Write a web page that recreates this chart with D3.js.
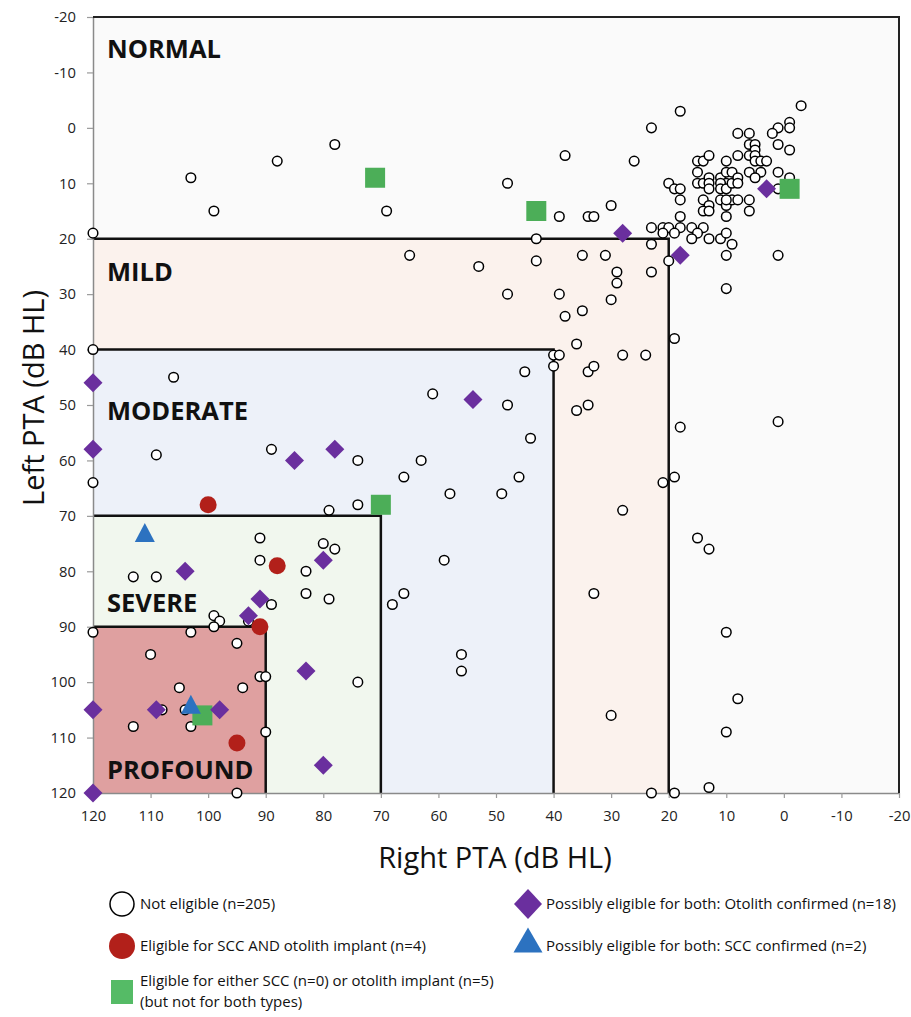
<!DOCTYPE html>
<html>
<head>
<meta charset="utf-8">
<script src="https://cdnjs.cloudflare.com/ajax/libs/d3/7.8.5/d3.min.js"></script>
<style>
  body { margin: 0; background: #fff; font-family: 'Open Sans', sans-serif; }
  .tick text { font-family: 'Open Sans', sans-serif; font-size: 14.8px; fill: #222; }
</style>
</head>
<body>
<script>
// [right PTA, left PTA] in dB HL
const notEligible = [
  [103,9],[99,15],[88,6],[78,3],[69,15],[120,19],[65,23],[120,40],[106,45],[61,48],
  [-3,-4],[18,-3],[23,0],[-1,-1],[-1,0],[1,0],[2,1],[8,1],[6,1],[6,3],[5,3],[1,3],[-1,4],[5,4],
  [38,5],[26,6],[48,10],[39,16],[34,16],[33,16],[30,14],[43,20],
  [20,24],[23,21],[23,18],[21,18],[20,18],[18,18],[16,18],[14,18],[21,19],[19,19],[15,19],[16,20],[13,20],[11,20],[10,19],[9,21],[10,23],[1,23],[10,29],
  [20,10],[19,11],[18,11],[18,13],[18,16],
  [15,6],[14,6],[13,5],[15,8],[15,10],[14,10],[13,9],[13,10],[13,11],[14,13],[13,14],[14,15],[13,15],
  [10,6],[11,9],[10,8],[10,10],[11,10],[11,11],[10,11],[9,8],[9,10],[8,9],[8,10],[8,5],[11,13],[10,14],[9,13],[8,13],[10,13],
  [6,13],[6,15],[6,8],[6,5],[5,5],[5,6],[4,6],[3,6],[4,8],[5,9],[10,16],[1,8],[-1,9],[1,11],
  [53,25],[43,24],[35,23],[31,23],[29,26],[29,28],[23,26],[48,30],[39,30],[30,31],[38,34],[35,33],[19,38],[36,39],
  [40,41],[39,41],[40,43],[28,41],[24,41],[45,44],[34,44],[33,43],[48,50],[36,51],[34,50],[1,53],
  [18,54],[44,56],[46,63],[19,63],[21,64],[49,66],[58,66],[28,69],[15,74],[13,76],[33,84],[10,91],[56,95],[56,98],
  [8,103],[30,106],[10,109],[13,119],[23,120],[19,120],
  [109,59],[120,64],[89,58],[74,60],[63,60],[66,63],[79,69],[74,68],[91,74],[80,75],[78,76],[91,78],[59,78],
  [113,81],[109,81],[83,80],[83,84],[79,85],[66,84],[68,86],[89,86],[99,88],[98,89],[99,90],[93,89],[120,91],[103,91],
  [95,93],[110,95],[91,99],[90,99],[74,100],[105,101],[94,101],[108,105],[104,105],[113,108],[103,108],[90,109],[95,120]
];
const sccAndOtolith = [[100,68],[88,79],[91,90],[95,111]];
const eitherImplant = [[71,9],[43,15],[-1,11],[70,68],[101,106]];
const otolithConfirmed = [
  [120,46],[28,19],[18,23],[3,11],[54,49],[120,58],[85,60],[78,58],[80,78],
  [104,80],[91,85],[93,88],[83,98],[120,105],[109,105],[98,105],[80,115],[120,120]
];
const sccConfirmed = [[111,73],[103,104]];

const bandNames = ['NORMAL', 'MILD', 'MODERATE', 'SEVERE', 'PROFOUND'];
const bandLimits = [-20, 20, 40, 70, 90];
const bandColors = ['#fafafa', '#fbf2ed', '#edf1f9', '#f1f7ee', '#dfa0a0'];
const bandLabelY = [-12.6, 27.6, 52.7, 87.4, 117.4];
const ticks = d3.range(120, -21, -10);

const legendItems = [
  {text: ['Not eligible (n=205)'], type: 'circle', col: 0, row: 0},
  {text: ['Eligible for SCC AND otolith implant (n=4)'], type: 'red', col: 0, row: 1},
  {text: ['Eligible for either SCC (n=0) or otolith implant (n=5)', '(but not for both types)'], type: 'square', col: 0, row: 2},
  {text: ['Possibly eligible for both: Otolith confirmed (n=18)'], type: 'diamond', col: 1, row: 0},
  {text: ['Possibly eligible for both: SCC confirmed (n=2)'], type: 'triangle', col: 1, row: 1}
];

const margin = {top: 17, left: 93, right: 12, bottom: 224};
const width = 911 - margin.left - margin.right;
const height = 1017 - margin.top - margin.bottom;

const svg = d3.select('body')
  .append('svg')
  .attr('width', 911)
  .attr('height', 1017);

const g = svg.append('g')
  .attr('transform', 'translate(' + margin.left + ',' + margin.top + ')');

const xScale = d3.scaleLinear().domain([120, -20]).range([0, width]);
const yScale = d3.scaleLinear().domain([-20, 120]).range([0, height]);

// severity boxes, all anchored at the (120,120) corner
bandNames.forEach((name, i) => {
  let lim = bandLimits[i];
  g.append('rect')
    .attr('x', xScale(120))
    .attr('y', yScale(lim))
    .attr('width', xScale(lim) - xScale(120))
    .attr('height', yScale(120) - yScale(lim))
    .attr('fill', bandColors[i]);
});
bandNames.forEach((name, i) => {
  let lim = bandLimits[i];
  g.append('path')
    .attr('d', 'M' + xScale(120) + ',' + yScale(lim) + 'H' + xScale(lim) + 'V' + yScale(120))
    .attr('fill', 'none')
    .attr('stroke', '#111')
    .attr('stroke-width', i == 0 ? 2 : 2.5);
  g.append('text')
    .attr('x', xScale(120) + 14)
    .attr('y', yScale(bandLabelY[i]))
    .style('font-size', '25.5px')
    .style('font-weight', 700)
    .attr('fill', '#111')
    .text(name);
});

// axes
let xAxis = g.append('g')
  .attr('transform', 'translate(0,' + height + ')')
  .call(d3.axisBottom(xScale).tickValues(ticks).tickFormat(d => d.toString()).tickSize(5).tickSizeOuter(0).tickPadding(12));
let yAxis = g.append('g')
  .call(d3.axisLeft(yScale).tickValues(ticks).tickFormat(d => d.toString()).tickSize(6).tickSizeOuter(0).tickPadding(11));
[xAxis, yAxis].forEach(a => {
  a.select('.domain').attr('stroke', '#8a8a8a').attr('stroke-width', 1.5);
  a.selectAll('.tick line').attr('stroke', '#9a9a9a').attr('stroke-width', 1.2);
});

// markers
g.selectAll('.ne')
  .data(notEligible)
  .enter()
  .append('circle')
  .attr('cx', d => xScale(d[0]))
  .attr('cy', d => yScale(d[1]))
  .attr('r', 4.8)
  .attr('fill', '#fff')
  .attr('stroke', '#000')
  .attr('stroke-width', 1.5);

g.selectAll('.sq')
  .data(eitherImplant)
  .enter()
  .append('rect')
  .attr('x', d => xScale(d[0]) - 10)
  .attr('y', d => yScale(d[1]) - 10)
  .attr('width', 20)
  .attr('height', 20)
  .attr('fill', '#4cae58');

const diamond = (cx, cy, w, h) => 'M' + cx + ',' + (cy - h) + 'L' + (cx + w) + ',' + cy + 'L' + cx + ',' + (cy + h) + 'L' + (cx - w) + ',' + cy + 'Z';
const triangle = (cx, cy, w, h) => 'M' + cx + ',' + (cy - h) + 'L' + (cx + w) + ',' + (cy + h) + 'L' + (cx - w) + ',' + (cy + h) + 'Z';

g.selectAll('.dm')
  .data(otolithConfirmed)
  .enter()
  .append('path')
  .attr('d', d => diamond(xScale(d[0]), yScale(d[1]), 9.5, 9.5))
  .attr('fill', '#6a2f9e');

g.selectAll('.red')
  .data(sccAndOtolith)
  .enter()
  .append('circle')
  .attr('cx', d => xScale(d[0]))
  .attr('cy', d => yScale(d[1]))
  .attr('r', 8.5)
  .attr('fill', '#b2201a');

g.selectAll('.tri')
  .data(sccConfirmed)
  .enter()
  .append('path')
  .attr('d', d => triangle(xScale(d[0]), yScale(d[1]), 10, 9.5))
  .attr('fill', '#2c72c0');

// frame top and right
g.append('path')
  .attr('d', 'M0,0H' + width + 'V' + height)
  .attr('fill', 'none')
  .attr('stroke', '#222')
  .attr('stroke-width', 2);

// axis titles
svg.append('text')
  .attr('x', 495)
  .attr('y', 868)
  .attr('text-anchor', 'middle')
  .style('font-size', '29px')
  .attr('fill', '#111')
  .text('Right PTA (dB HL)');

svg.append('text')
  .attr('transform', 'translate(44,398) rotate(-90)')
  .attr('text-anchor', 'middle')
  .style('font-size', '29px')
  .attr('fill', '#111')
  .text('Left PTA (dB HL)');

// legend
const legendX = [122, 528];
const legendY = [904, 946, 992];
legendItems.forEach(item => {
  let cx = legendX[item.col];
  let cy = legendY[item.row];
  let lg = svg.append('g');
  if (item.type == 'circle') {
    lg.append('circle').attr('cx', cx).attr('cy', cy).attr('r', 12).attr('fill', '#fff').attr('stroke', '#000').attr('stroke-width', 1.5);
  } else if (item.type == 'red') {
    lg.append('circle').attr('cx', cx).attr('cy', cy).attr('r', 13).attr('fill', '#b2201a');
  } else if (item.type == 'square') {
    lg.append('rect').attr('x', cx - 11).attr('y', cy - 12).attr('width', 22).attr('height', 24).attr('fill', '#55bb66');
  } else if (item.type == 'diamond') {
    lg.append('path').attr('d', diamond(cx, cy, 14, 15)).attr('fill', '#6a2f9e');
  } else {
    lg.append('path').attr('d', triangle(cx, cy - 6, 14.5, 12.5)).attr('fill', '#2c72c0');
  }
  let ty = item.text.length > 1 ? cy - 11 : cy;
  item.text.forEach((t, j) => {
    lg.append('text')
      .attr('x', cx + 18)
      .attr('y', ty + j * 21)
      .attr('dy', '0.36em')
      .style('font-size', '15px')
      .attr('fill', '#111')
      .text(t);
  });
});
</script>
</body>
</html>
